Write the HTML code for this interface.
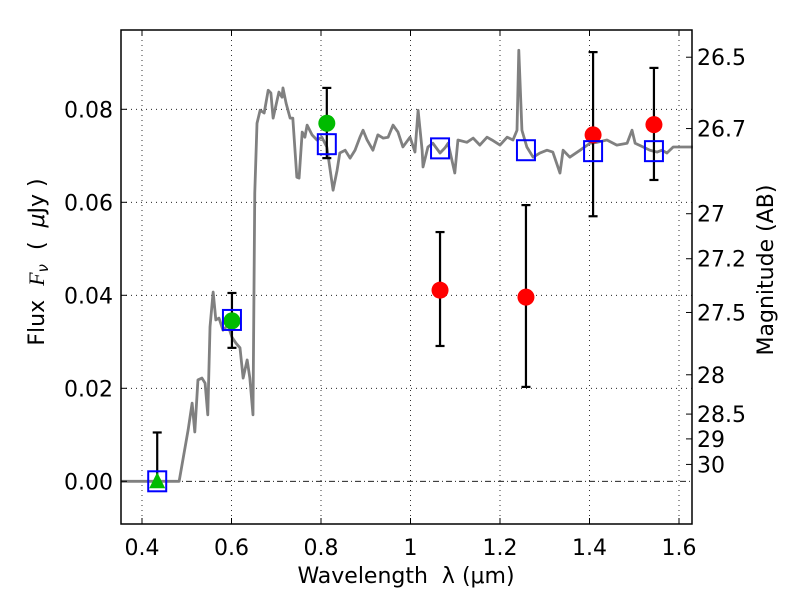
<!DOCTYPE html>
<html><head><meta charset="utf-8"><style>
html,body{margin:0;padding:0;background:#fff;}
svg{display:block;font-family:"DejaVu Sans","Liberation Sans",sans-serif;}
</style></head><body>
<svg id="chart" width="800" height="600" xmlns="http://www.w3.org/2000/svg"></svg>
<script>
const specLam=[0.353,0.483,0.503,0.512,0.518,0.525,0.534,0.541,0.547,0.552,0.559,0.565,0.572,0.581,0.592,0.601,0.610,0.619,0.626,0.635,0.641,0.648,0.652,0.657,0.664,0.673,0.682,0.688,0.693,0.702,0.706,0.713,0.715,0.722,0.731,0.737,0.746,0.751,0.758,0.764,0.769,0.780,0.791,0.802,0.813,0.827,0.836,0.842,0.854,0.865,0.876,0.887,0.894,0.903,0.916,0.927,0.939,0.950,0.961,0.972,0.983,0.999,1.010,1.017,1.026,1.028,1.039,1.050,1.066,1.077,1.084,1.099,1.106,1.126,1.140,1.155,1.171,1.182,1.200,1.216,1.229,1.238,1.242,1.249,1.260,1.274,1.289,1.305,1.318,1.334,1.341,1.356,1.379,1.401,1.417,1.439,1.461,1.484,1.495,1.502,1.520,1.535,1.551,1.562,1.573,1.587,1.602,1.631];
const specFlux=[0,0,0.0110,0.0168,0.0106,0.0218,0.0222,0.0211,0.0143,0.0332,0.0407,0.0347,0.0351,0.0325,0.0336,0.0310,0.0297,0.0287,0.0222,0.0261,0.0222,0.0143,0.0620,0.0770,0.0798,0.0792,0.0841,0.0835,0.0781,0.0820,0.0837,0.0826,0.0846,0.0813,0.0781,0.0781,0.0654,0.0652,0.0751,0.0740,0.0766,0.0745,0.0734,0.0740,0.0719,0.0626,0.0669,0.0706,0.0712,0.0695,0.0712,0.0740,0.0755,0.0734,0.0712,0.0745,0.0738,0.0740,0.0766,0.0751,0.0719,0.0740,0.0708,0.0798,0.0712,0.0676,0.0719,0.0727,0.0706,0.0717,0.0727,0.0663,0.0734,0.0729,0.0738,0.0723,0.0740,0.0734,0.0723,0.0740,0.0734,0.0755,0.0927,0.0755,0.0719,0.0697,0.0706,0.0712,0.0708,0.0663,0.0712,0.0697,0.0712,0.0727,0.0729,0.0734,0.0723,0.0727,0.0755,0.0727,0.0719,0.0712,0.0708,0.0712,0.0706,0.0719,0.0719,0.0719];
const modelLam=[0.434,0.601,0.813,1.066,1.258,1.408,1.544];
const modelFlux=[0.0,0.0347,0.0725,0.0716,0.0712,0.0710,0.0710];
const greenLam=[0.601,0.813];
const greenFlux=[0.0345,0.0770];
const greenLo=[0.0287,0.0695];
const greenHi=[0.0405,0.0846];
const triLam=[0.434];
const triFlux=[0.0];
const triHi=[0.0105];
const redLam=[1.066,1.258,1.408,1.544];
const redFlux=[0.0411,0.0396,0.0745,0.0767];
const redLo=[0.0291,0.0203,0.0570,0.0648];
const redHi=[0.0536,0.0594,0.0923,0.0889];
const xTicks=[0.4,0.6,0.8,1.0,1.2,1.4,1.6];
const xTickLabels=["0.4","0.6","0.8","1","1.2","1.4","1.6"];
const yTicks=[0,0.02,0.04,0.06,0.08];
const yTickLabels=["0.00","0.02","0.04","0.06","0.08"];
const magTicks=[26.5,26.7,27,27.2,27.5,28,28.5,29,30];
const magTickLabels=["26.5","26.7","27","27.2","27.5","28","28.5","29","30"];

const L=121,R=692,T=30,B=524;
const X=v=>142+(v-0.4)*447.5;
const Y=v=>481.3-v*4650;
const svg=document.getElementById('chart');
const NS='http://www.w3.org/2000/svg';
function el(tag,attrs,parent){const e=document.createElementNS(NS,tag);for(const k in attrs)e.setAttribute(k,attrs[k]);(parent||svg).appendChild(e);return e;}

const grid=el('g',{});


xTicks.forEach(t=>el('line',{x1:X(t),x2:X(t),y1:T,y2:B,stroke:'#000','stroke-width':0.8,'stroke-dasharray':'1,4'},grid));
yTicks.forEach(t=>{ if(t!==0) el('line',{x1:L,x2:R,y1:Y(t),y2:Y(t),stroke:'#000','stroke-width':0.8,'stroke-dasharray':'1,4'},grid);});
const zl=el('line',{x1:L,x2:R,y1:Y(0),y2:Y(0),stroke:'#000','stroke-width':0.8,'stroke-dasharray':'6,3,1,3'});



const sp=el('polyline',{points:specLam.map((l,i)=>X(l)+','+Y(specFlux[i])).join(' '),fill:'none',stroke:'#808080','stroke-width':2.8,'stroke-linejoin':'round'});



function errbar(x,lo,hi,name,bottomCap){
  const g=el('g',{});
  
  
  el('line',{x1:X(x),x2:X(x),y1:Y(lo),y2:Y(hi),stroke:'#000','stroke-width':2.2},g);
  el('line',{x1:X(x)-4.5,x2:X(x)+4.5,y1:Y(hi),y2:Y(hi),stroke:'#000','stroke-width':2.2},g);
  if(bottomCap) el('line',{x1:X(x)-4.5,x2:X(x)+4.5,y1:Y(lo),y2:Y(lo),stroke:'#000','stroke-width':2.2},g);
}
greenLam.forEach((l,i)=>errbar(l,greenLo[i],greenHi[i],'green-errorbar',true));
redLam.forEach((l,i)=>errbar(l,redLo[i],redHi[i],'red-errorbar',true));
triLam.forEach((l,i)=>errbar(l,triFlux[i],triHi[i],'triangle-errorbar',false));

greenLam.forEach((l,i)=>{const c=el('circle',{cx:X(l),cy:Y(greenFlux[i]),r:8.5,fill:'#00bb00'});

});
redLam.forEach((l,i)=>{const c=el('circle',{cx:X(l),cy:Y(redFlux[i]),r:8.5,fill:'#ff0000'});

});
triLam.forEach((l,i)=>{const x=X(l),y=Y(triFlux[i]);const p=el('polygon',{points:`${x},${y-9} ${x-8},${y+7} ${x+8},${y+7}`,fill:'#00bb00'});

});
modelLam.forEach((l,i)=>{const r=el('rect',{x:X(l)-9,y:Y(modelFlux[i])-10,width:18,height:20,fill:'none',stroke:'#0000ff','stroke-width':2});

});

const fr=el('rect',{x:L,y:T,width:R-L,height:B-T,fill:'none',stroke:'#000','stroke-width':1.5});



xTicks.forEach((t,i)=>{
  el('line',{x1:X(t),x2:X(t),y1:B,y2:B-6,stroke:'#000'});
  el('line',{x1:X(t),x2:X(t),y1:T,y2:T+6,stroke:'#000'});
  const tx=el('text',{x:X(t),y:555,'font-size':22,'text-anchor':'middle'});tx.textContent=xTickLabels[i];
  
  
});
yTicks.forEach((t,i)=>{
  el('line',{x1:L,x2:L+6,y1:Y(t),y2:Y(t),stroke:'#000'});
  const tx=el('text',{x:113,y:Y(t)+8,'font-size':22,'text-anchor':'end'});tx.textContent=yTickLabels[i];
  
  
});
magTicks.forEach((m,i)=>{
  const y=Y(Math.pow(10,(23.9-m)/2.5));
  el('line',{x1:R,x2:R-6,y1:y,y2:y,stroke:'#000'});
  const tx=el('text',{x:697,y:y+8,'font-size':22});tx.textContent=magTickLabels[i];
  
  
});

const xl=el('text',{x:406,y:583,'font-size':22,'text-anchor':'middle'});
xl.textContent='Wavelength\u00a0\u00a0λ (μm)';


const yl=el('text',{x:44,y:262,'font-size':22,'text-anchor':'middle',transform:'rotate(-90 44 262)'});
yl.innerHTML='Flux\u00a0\u00a0<tspan font-style="italic" font-family="Liberation Serif,serif">F</tspan><tspan font-style="italic" font-size="15" dy="4">ν</tspan><tspan dy="-4">\u00a0\u00a0(\u00a0\u00a0</tspan><tspan font-style="italic">μ</tspan>Jy )';


const ml=el('text',{x:773,y:270,'font-size':22,'text-anchor':'middle',transform:'rotate(-90 773 270)'});
ml.textContent='Magnitude (AB)';


</script>
</body></html>
